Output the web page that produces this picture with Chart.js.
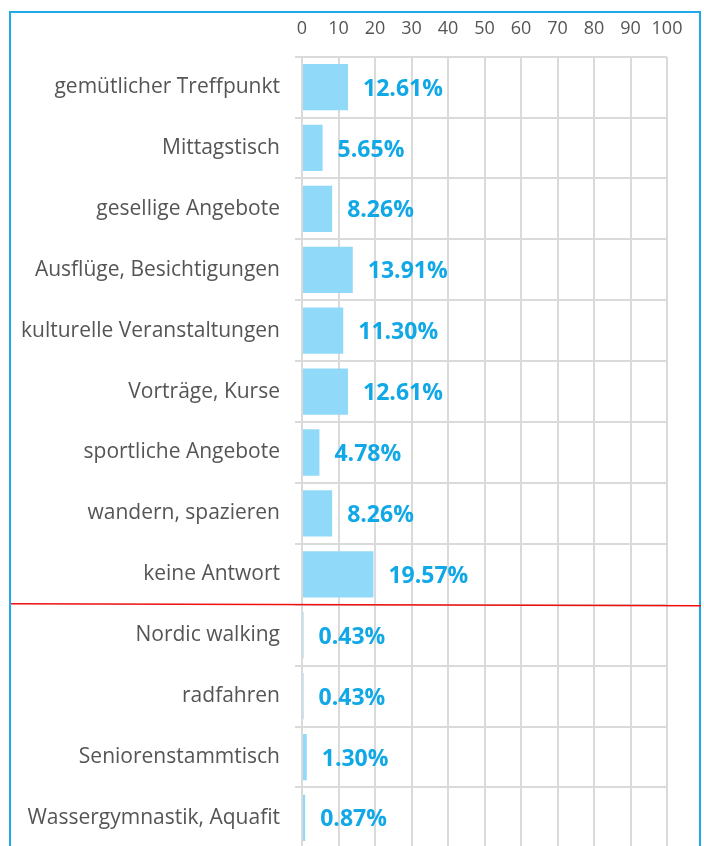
<!DOCTYPE html>
<html lang="de">
<head>
    <meta charset="UTF-8">
    <title>Angebote</title>
    <script src="https://cdn.jsdelivr.net/npm/chart.js"></script>
    <style>
        html, body {
            margin: 0;
            padding: 0;
            background: #fff;
            overflow: hidden;
        }
        #frame {
            position: absolute;
            left: 9px;
            top: 11px;
            width: 692px;
            height: 900px;
            box-sizing: border-box;
            border: 2px solid #1fa9e6;
            border-bottom: none;
        }
        #chart {
            position: absolute;
            left: 0;
            top: 0;
        }
    </style>
</head>
<body>
    <div id="frame"></div>
    <canvas id="chart" width="704" height="876"></canvas>

    <script>
        // Daten
        const categories = [
            'gemütlicher Treffpunkt',
            'Mittagstisch',
            'gesellige Angebote',
            'Ausflüge, Besichtigungen',
            'kulturelle Veranstaltungen',
            'Vorträge, Kurse',
            'sportliche Angebote',
            'wandern, spazieren',
            'keine Antwort',
            'Nordic walking',
            'radfahren',
            'Seniorenstammtisch',
            'Wassergymnastik, Aquafit'
        ];
        const percentages = [12.61, 5.65, 8.26, 13.91, 11.30, 12.61, 4.78, 8.26, 19.57, 0.43, 0.43, 1.30, 0.87];
        const xTicks = [0, 10, 20, 30, 40, 50, 60, 70, 80, 90, 100];
        const separatorAfter = 'keine Antwort'; // rote Linie unter dieser Kategorie

        // Prozentwerte neben die Balken schreiben
        const valueLabels = {
            id: 'valueLabels',
            afterDatasetsDraw(chart) {
                const ctx = chart.ctx;
                const meta = chart.getDatasetMeta(0);
                ctx.save();
                ctx.fillStyle = '#10a8e6';
                ctx.font = 'bold 23px "Open Sans"';
                ctx.textAlign = 'left';
                ctx.textBaseline = 'middle';
                meta.data.forEach((bar, i) => {
                    ctx.fillText(percentages[i].toFixed(2) + '%', bar.x + 15, bar.y + 2);
                });
                ctx.restore();
            }
        };

        // rote Trennlinie
        const separator = {
            id: 'separator',
            afterDraw(chart) {
                const y = chart.scales.y;
                const i = categories.indexOf(separatorAfter);
                const py = (y.getPixelForValue(i) + y.getPixelForValue(i + 1)) / 2;
                const ctx = chart.ctx;
                ctx.save();
                ctx.strokeStyle = '#f01010';
                ctx.lineWidth = 1.5;
                ctx.beginPath();
                ctx.moveTo(11, py - 1);
                ctx.lineTo(chart.width - 3, py + 1);
                ctx.stroke();
                ctx.restore();
            }
        };

        new Chart(document.getElementById('chart'), {
            type: 'bar',
            data: {
                labels: categories,
                datasets: [{
                    data: percentages,
                    backgroundColor: '#91d9f8',
                    borderWidth: 0,
                    barPercentage: 0.76,
                    categoryPercentage: 1.0
                }]
            },
            options: {
                indexAxis: 'y',
                responsive: false,
                animation: false,
                layout: {
                    padding: { top: 1, left: 12, right: 37, bottom: 2 }
                },
                plugins: {
                    legend: { display: false },
                    tooltip: { enabled: false }
                },
                scales: {
                    x: {
                        position: 'top',
                        min: 0,
                        max: 100,
                        afterBuildTicks: s => { s.ticks = xTicks.map(v => ({ value: v })); },
                        ticks: {
                            color: '#555',
                            padding: 17,
                            maxRotation: 0,
                            minRotation: 0,
                            autoSkip: false,
                            font: { family: '"Open Sans"', size: 18 }
                        },
                        grid: {
                            color: '#dadada',
                            lineWidth: 2,
                            drawTicks: false
                        },
                        border: { display: false }
                    },
                    y: {
                        afterFit: s => { s.width = 290; },
                        ticks: {
                            color: '#555',
                            padding: 15,
                            font: { family: '"Open Sans"', size: 21 }
                        },
                        grid: {
                            color: '#dadada',
                            lineWidth: 2,
                            tickLength: 7,
                            offset: true
                        },
                        border: { display: false }
                    }
                }
            },
            plugins: [valueLabels, separator]
        });
    </script>
</body>
</html>
